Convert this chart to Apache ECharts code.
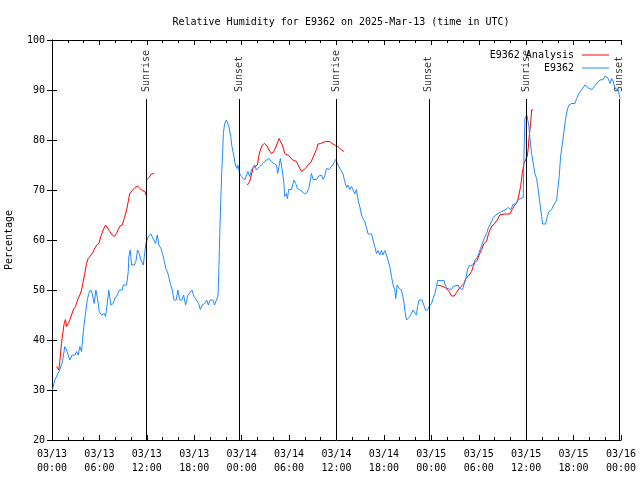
<!DOCTYPE html>
<html>
<head>
<meta charset="utf-8">
<script src="https://cdn.jsdelivr.net/npm/echarts@6/dist/echarts.min.js"></script>
<style>html,body{margin:0;padding:0;background:#fff}#c{width:640px;height:480px}</style>
</head>
<body>
<div id="c"></div>
<script>
// ---- data (hours since 2025-03-13 00:00 UTC) ----
const titleText = 'Relative Humidity for E9362 on 2025-Mar-13 (time in UTC)';
const xTickLabels = ['03/13\n00:00','03/13\n06:00','03/13\n12:00','03/13\n18:00',
  '03/14\n00:00','03/14\n06:00','03/14\n12:00','03/14\n18:00',
  '03/15\n00:00','03/15\n06:00','03/15\n12:00','03/15\n18:00','03/16\n00:00'];
const yTicks = [20,30,40,50,60,70,80,90,100];

const stationName = 'E9362';
const analysisName = 'E9362 Analysis';

const stationHours = [0.06,0.35,0.79,0.99,1.33,1.62,1.84,2.25,2.56,2.89,3.10,3.32,3.52,3.74,3.86,4.03,4.24,4.46,4.66,4.88,5.09,5.34,5.55,5.76,5.98,6.27,6.61,6.78,6.99,7.19,7.45,7.75,7.95,8.26,8.51,8.89,9.02,9.44,9.65,9.73,9.90,10.07,10.41,10.61,10.83,11.04,11.25,11.55,11.68,11.88,12.18,12.51,12.73,12.89,13.11,13.32,13.53,13.78,13.99,14.21,14.41,14.67,14.97,15.22,15.43,15.73,15.93,16.15,16.44,16.65,16.91,17.20,17.41,17.71,17.96,18.26,18.55,18.77,19.02,19.31,19.57,19.78,20.04,20.36,20.58,20.80,21.00,21.09,21.21,21.34,21.47,21.59,21.68,21.85,22.06,22.26,22.39,22.61,22.77,22.99,23.20,23.40,23.53,23.75,23.96,24.16,24.38,24.59,24.80,25.01,25.23,25.43,25.65,25.86,26.06,26.28,26.49,26.70,26.91,27.13,27.46,27.76,28.05,28.39,28.56,28.72,28.90,29.10,29.32,29.45,29.66,29.79,29.95,30.29,30.50,30.62,30.84,31.05,31.34,31.64,31.98,32.27,32.48,32.70,32.83,33.03,33.46,33.75,34.09,34.30,34.51,34.73,35.06,35.27,35.44,35.69,35.90,36.20,36.50,36.83,37.04,37.26,37.46,37.68,37.89,38.10,38.31,38.53,38.73,38.94,39.16,39.36,39.58,39.79,40.00,40.43,40.63,40.84,41.06,41.26,41.48,41.69,41.89,42.11,42.33,42.53,42.74,42.96,43.16,43.38,43.50,43.67,43.92,44.22,44.35,44.52,44.64,44.86,45.06,45.28,45.49,45.69,45.91,46.13,46.25,46.45,46.83,47.05,47.26,47.52,47.72,48.02,48.23,48.44,48.66,48.78,49.29,49.62,49.75,50.00,50.25,50.56,50.76,50.98,51.39,51.61,51.95,52.12,52.37,52.58,52.79,52.96,53.22,53.51,53.80,54.05,54.23,54.48,54.69,54.99,55.19,55.41,55.62,55.83,56.17,56.46,56.89,57.31,57.73,58.07,58.36,58.70,58.91,59.08,59.63,59.71,59.84,60.01,60.09,60.26,60.35,60.47,60.69,60.89,61.11,61.32,61.53,61.74,61.96,62.08,62.46,62.67,62.88,63.22,63.55,63.86,64.06,64.18,64.36,64.56,64.78,64.99,65.20,65.41,65.75,66.17,66.39,66.68,67.02,67.44,67.65,67.95,68.36,68.62,68.92,69.34,69.76,69.97,70.19,70.39,70.61,70.82,71.02,71.24,71.45,71.66,71.87];
const stationValues = [30,32,33.4,34,35.7,38.7,38,36,37,37,37.7,37,38.7,37.7,40,42.7,45.3,48,49.3,50,49.3,47.3,50,48.3,45.7,45,45.3,44.7,47.3,50,47,47.3,48.3,49,50,50,51,51,53.7,56.7,58,55,55,55.7,58,57.3,56,55,56.7,59.3,60.7,61.2,61.3,60,59.3,61,59,58.3,57.3,55.7,54.3,53.3,51.3,50,48,48,50,48,48,49,47,49,49,50,48.7,48,47.3,46.1,47,47.3,48,47,48,48,47,48,48.7,52.7,60,67.3,73.3,77.3,81.3,83.3,84,84,82.7,80.7,78.7,77,75,74.3,75,73.3,72.7,72.3,72,72.3,73.7,72.7,74,74.3,75,74,74.3,74.7,75,75.3,75,76,76.3,75.7,75.3,75,73.3,74.7,76.3,74.3,71.7,68.7,69.3,68.3,70.1,70.1,70.3,72,71.3,70.3,70,69.7,69.2,69.5,70.3,72,73.3,72.1,72.1,72.8,73,72.1,72.8,74.3,74.1,74.1,74.8,75.5,76.1,75,74.1,73.2,71.7,70.5,71,70.1,70.7,70,69.2,70.1,68,66.7,65,64.3,63.7,62.5,61.2,61.2,60,58.7,57.3,57.9,57,57.9,57,57.9,57,56.7,54.7,52.7,51,50,48.3,51,50.3,50,49,47.7,46,44,44,44.7,45.3,46,45.7,45,46.7,48,48,47,46,46,46.7,47.3,48.3,49.3,50.7,51.9,51.9,51.9,51,50.3,50,50.1,50.7,51,51,50.3,50.1,51,52.3,54.1,54.8,55.2,55,55.9,56.5,57.5,58.3,59.5,60.3,61.3,62.3,63,63.7,64.5,65,65.3,65.7,66,66.5,66.1,67.2,67.2,68,68.3,68.5,76,84.3,84.7,85,85,82.7,80.3,77.3,75.3,73.3,72.3,70,67.3,64.7,63.2,63.2,64.7,65.7,66.1,67.2,68,68.1,72.7,76.7,79,81.7,84.3,86,87,87.3,87.3,88.3,89.3,90.1,91,91.2,90.3,90.1,90.7,91.3,92,92.1,92.8,93.2,92.3,91.3,92.3,91.7,90.3,90.7,90,88.3];

const analysisHours = [0.57,0.86,0.99,1.20,1.42,1.54,1.71,1.84,2.05,2.25,2.47,2.68,2.98,3.23,3.52,3.74,3.95,4.15,4.37,4.58,4.79,5.09,5.34,5.64,5.93,6.18,6.48,6.78,7.03,7.32,7.62,7.88,8.17,8.38,8.59,8.89,9.14,9.44,9.65,9.82,10.16,10.49,10.83,11.12,11.42,11.75,11.93,11.97,12.26,12.60,12.89,
  18.0,
  24.72,25.01,25.23,25.43,25.73,25.99,26.15,26.37,26.62,26.91,27.20,27.46,27.76,28.05,28.39,28.72,28.94,29.15,29.45,29.79,30.08,30.37,30.62,30.93,31.22,31.56,31.76,32.07,32.40,32.74,32.90,33.16,33.46,33.66,34.00,34.30,34.60,34.85,35.14,35.44,35.78,36.12,36.41,36.63,36.92,
  42.0,
  48.78,49.49,49.92,50.25,50.56,50.89,51.19,51.52,51.82,52.12,52.37,52.66,52.87,53.09,53.29,53.51,53.80,54.05,54.36,54.65,54.99,55.19,55.41,55.75,56.04,56.33,56.67,57.31,57.94,58.23,58.57,58.91,59.08,59.30,59.50,59.71,59.93,60.13,60.26,60.38,60.56,60.69,60.89];
const analysisValues = [34.7,34,35.7,39.3,42,43.3,44.1,42.7,43.3,44,45,46,46.7,48,49,50,51.7,53.3,55.3,56.3,56.7,57.3,58.1,59,59.3,60.7,62,63,62.7,61.7,61,60.7,61.3,62.1,62.8,63,64.3,66,67.7,69.2,69.9,70.5,70.8,70.3,69.9,69.7,68.9,72,72.5,73.2,73.3,
  null,
  71,71.7,73,74.3,74.8,75,76.7,78,79,79.3,78.8,78,77.3,77.7,78.8,80.3,80.3,79,77.3,77,76.7,76.1,75.9,75.7,74.8,73.7,73.7,74.3,75,75.5,75.7,77,78.1,79.2,79.3,79.5,79.7,80,79.7,79.3,79,78.8,78.3,78,77.7,
  null,
  51,50.7,50.3,49.7,48.8,48.8,49.5,50.3,50.8,51.3,52.3,52.7,52.7,53.7,54.7,55.5,55.9,57,58.1,59.3,59.7,61,62,63,63.3,64,65,65.2,65.2,66.1,67,67.7,69,70.7,73.3,75.3,75.3,76.7,78.3,80.7,83.3,86,86];

const eventHours = [11.98, 23.66, 35.95, 47.68, 59.98, 71.82];
const eventNames = ['Sunrise','Sunset','Sunrise','Sunset','Sunrise','Sunset'];
const eventLineTop = 88.2;

// ---- build ----
const zip = (a, b) => a.map((h, i) => [h, b[i]]);
const FONT = 'DejaVu Sans Mono';
const txt = {fontFamily: FONT, fontSize: 10, color: '#000'};

const chart = echarts.init(document.getElementById('c'), null, {renderer: 'canvas'});
const axisCommon = {
  axisLine: {show: true, lineStyle: {color: '#000', width: 1}},
  splitLine: {show: false}
};
chart.setOption({
  animation: false,
  backgroundColor: '#fff',
  title: {text: titleText, left: 336, top: 12, textAlign: 'center',
    textStyle: {fontFamily: FONT, fontSize: 10, fontWeight: 'normal', color: '#000'}},
  grid: {left: 52, right: 19, top: 40, bottom: 40, containLabel: false, outerBoundsMode: 'none'},
  legend: [
    {data: [analysisName], right: 26, top: 45, orient: 'vertical', align: 'right',
     itemWidth: 27, itemHeight: 1, icon: 'rect', itemGap: 4, textStyle: Object.assign({}, txt, {padding: [0, 3, 0, 0]})},
    {data: [stationName], right: 26, top: 58, orient: 'vertical', align: 'right',
     itemWidth: 27, itemHeight: 1, icon: 'rect', itemGap: 4, textStyle: Object.assign({}, txt, {padding: [0, 3, 0, 0]})}
  ],
  xAxis: [
    Object.assign({}, axisCommon, {
      type: 'value', min: 0, max: 72, interval: 6,
      axisTick: {show: true, inside: true, length: 5, lineStyle: {color: '#000'}},
      minorTick: {show: true, splitNumber: 3, length: 3, lineStyle: {color: '#000'}},
      axisLabel: Object.assign({}, txt, {margin: 7, lineHeight: 14,
        formatter: v => xTickLabels[Math.round(v / 6)] || ''})
    }),
    Object.assign({}, axisCommon, {
      type: 'value', min: 0, max: 72, interval: 6, position: 'top',
      axisTick: {show: true, inside: true, length: 5, lineStyle: {color: '#000'}},
      minorTick: {show: true, splitNumber: 3, length: 3, lineStyle: {color: '#000'}},
      axisLabel: {show: false}
    })
  ],
  yAxis: [
    Object.assign({}, axisCommon, {
      type: 'value', min: yTicks[0], max: yTicks[yTicks.length - 1], interval: 10,
      name: 'Percentage', nameLocation: 'middle', nameGap: 38, nameRotate: 90,
      nameTextStyle: txt,
      axisTick: {show: true, inside: true, length: 5, lineStyle: {color: '#000'}},
      axisLabel: Object.assign({}, txt, {margin: 7})
    }),
    Object.assign({}, axisCommon, {
      type: 'value', min: yTicks[0], max: yTicks[yTicks.length - 1], interval: 10, position: 'right',
      axisTick: {show: true, inside: true, length: 5, lineStyle: {color: '#000'}},
      axisLabel: {show: false}
    })
  ],
  series: [
    {
      name: 'events', type: 'scatter', symbolSize: 0, silent: true, z: 1,
      data: eventHours.map((h, i) => ({value: [h, eventLineTop], name: eventNames[i]})),
      label: {show: true, formatter: p => p.name, position: 'top', distance: 7,
        rotate: 90, align: 'left', verticalAlign: 'middle',
        fontFamily: FONT, fontSize: 10, color: '#000'},
      markLine: {
        silent: true, symbol: 'none', label: {show: false},
        lineStyle: {color: '#000', width: 1, type: 'solid'},
        data: eventHours.map(h => [{coord: [h, yTicks[0]]}, {coord: [h, eventLineTop]}])
      }
    },
    {
      name: analysisName, type: 'line', data: zip(analysisHours, analysisValues),
      showSymbol: false, symbol: 'none', connectNulls: false,
      lineStyle: {color: '#ff0000', width: 1}, itemStyle: {color: '#ff0000'}, z: 3
    },
    {
      name: stationName, type: 'line', data: zip(stationHours, stationValues),
      showSymbol: false, symbol: 'none',
      lineStyle: {color: '#1e8cff', width: 1}, itemStyle: {color: '#1e8cff'}, z: 4
    }
  ]
});
</script>
</body>
</html>
